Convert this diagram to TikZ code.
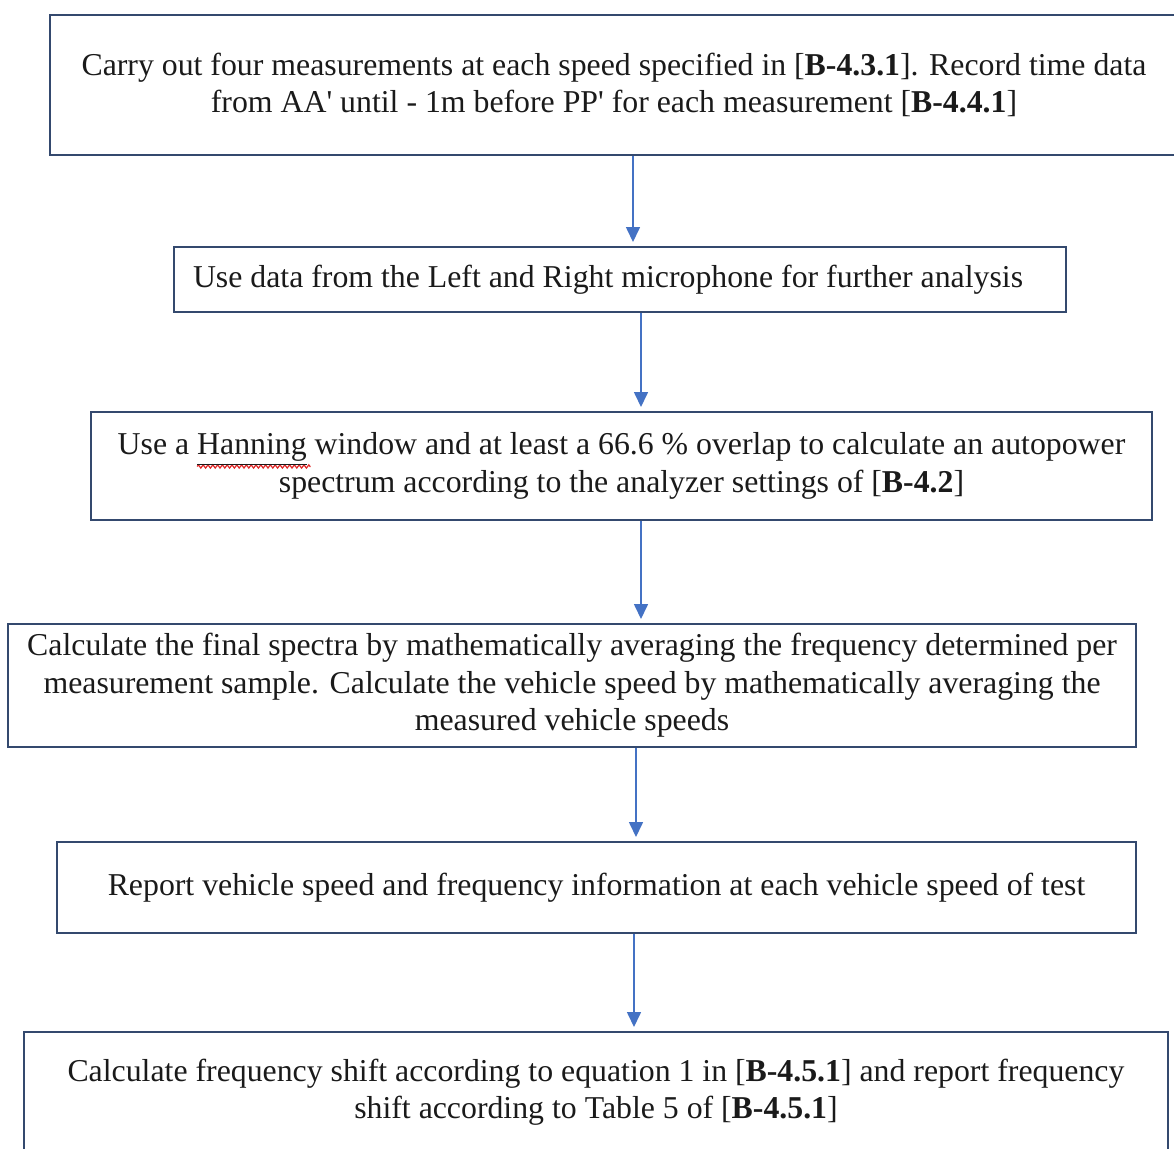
\documentclass[tikz,border=0pt]{standalone}
\usepackage{fontspec}
\setmainfont{Liberation Serif}
\usetikzlibrary{arrows.meta,decorations.pathmorphing}
\definecolor{boxc}{HTML}{34496E}
\definecolor{arrc}{HTML}{4472C4}
\definecolor{txtc}{HTML}{1A1A1A}
\definecolor{wavec}{HTML}{E02828}
\newlength\hannw
\newcommand\hann{\settowidth{\hannw}{Hanning}\rlap{\tikz[baseline=0pt,x=1pt,y=1pt]{\useasboundingbox (0,0); \draw[wavec,line width=0.6pt,decorate,decoration={zigzag,amplitude=0.8pt,segment length=2.4pt}] (0,-5.8) -- (\hannw+2pt,-5.8);}}\underline{Hanning}}
\begin{document}
\begin{tikzpicture}[x=0.5pt,y=-0.5pt,
  box/.style={draw=boxc, line width=1pt, rectangle, inner sep=0pt, align=center, text=txtc,
    font=\fontsize{15.9}{18.75}\selectfont},
  arr/.style={draw=arrc, line width=0.8pt, -{Triangle[width=7pt,length=7.5pt]}, shorten >=2pt, arrc}]
\useasboundingbox (0,0) rectangle (1174,1148);
\clip (0,0) rectangle (1174,1148);
\node[box, minimum width=564pt, minimum height=70pt] (b1) at (614,85)
  {Carry out four measurements at each speed specified in [\textbf{B-4.3.1}]. Record time data\\
   from AA\textquotesingle{} until - 1m before PP\textquotesingle{} for each measurement [\textbf{B-4.4.1}]};
\node[box, minimum width=446pt, minimum height=32.5pt, inner xsep=9.5pt] (b2) at (620,279.5)
  {\makebox[427pt][l]{Use data from the Left and Right microphone for further analysis}};
\node[box, minimum width=530.5pt, minimum height=54pt] (b3) at (621.5,466)
  {Use a \hann{} window and at least a 66.6 \% overlap to calculate an autopower\\
   spectrum according to the analyzer settings of [\textbf{B-4.2}]};
\node[box, minimum width=564pt, minimum height=61.5pt] (b4) at (572,685.5)
  {Calculate the final spectra by mathematically averaging the frequency determined per\\
   measurement sample. Calculate the vehicle speed by mathematically averaging the\\
   measured vehicle speeds};
\node[box, minimum width=539.5pt, minimum height=45.5pt] (b5) at (596.5,887.5)
  {Report vehicle speed and frequency information at each vehicle speed of test};
\node[box, minimum width=572pt, minimum height=60pt] (b6) at (596,1092)
  {Calculate frequency shift according to equation 1 in [\textbf{B-4.5.1}] and report frequency\\
   shift according to Table 5 of [\textbf{B-4.5.1}]};
\coordinate (x1) at (633,0);
\coordinate (x2) at (641,0);
\coordinate (x3) at (641,0);
\coordinate (x4) at (636,0);
\coordinate (x5) at (634,0);
\draw[arr] (b1.south -| x1) -- (b2.north -| x1);
\draw[arr] (b2.south -| x2) -- (b3.north -| x2);
\draw[arr] (b3.south -| x3) -- (b4.north -| x3);
\draw[arr] (b4.south -| x4) -- (b5.north -| x4);
\draw[arr] (b5.south -| x5) -- (b6.north -| x5);
\end{tikzpicture}
\end{document}
